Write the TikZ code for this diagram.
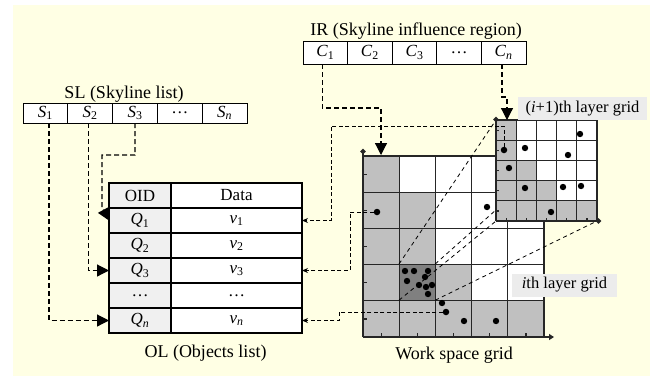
\documentclass[tikz,border=0pt]{standalone}
\usepackage{fontspec}
\setmainfont{Liberation Serif}
\usetikzlibrary{positioning,arrows.meta,calc}
\definecolor{bgyellow}{RGB}{255,255,228}
\definecolor{cellgray}{RGB}{192,192,192}
\definecolor{darkcell}{RGB}{128,128,128}
\definecolor{oidgray}{RGB}{240,240,240}
\definecolor{labgray}{RGB}{236,236,236}
\newcommand{\ital}[2]{\textit{#1}\textsubscript{#2}}

\begin{document}
\begin{tikzpicture}[x=1pt,y=-1pt,
  every node/.style={font=\fontsize{17}{19}\selectfont,inner sep=0pt,outer sep=0pt},
  ttl/.style={font=\fontsize{18}{20}\selectfont},
  slcell/.style={rectangle,draw,line width=0.9pt,fill=white,minimum width=44.8pt,minimum height=20pt},
  ircell/.style={slcell,minimum width=44.6pt,minimum height=23pt},
  oidcell/.style={rectangle,draw,line width=1.1pt,fill=oidgray,minimum width=62pt,minimum height=25pt},
  datcell/.style={oidcell,fill=white,minimum width=131pt},
  lab/.style={fill=labgray,font=\fontsize{16.5}{18}\selectfont,minimum height=23pt},
  gline/.style={line width=1.3pt,black!85},
  axis/.style={line width=1.8pt,black!85},
  tick/.style={line width=1.2pt,black!85},
  dot/.style={circle,fill=black,minimum size=6.5pt},
  zoomln/.style={line width=0.8pt,dash pattern=on 4pt off 3.5pt},
  link/.style={line width=1pt,dash pattern=on 4pt off 2.5pt,-{Stealth[length=6pt,width=5pt]}},
  bigarr/.style={line width=1.2pt,dash pattern=on 5pt off 3pt,-{Triangle[length=12pt,width=12pt]}}
]
\fill[bgyellow] (13,5) rectangle (650,376);
\useasboundingbox (0,0) rectangle (650,376);

\node[ttl] (sltitle) at (124,94) {SL (Skyline list)};
\node[slcell] (s1) at (45.4,113) {\ital{S}{1}};
\node[slcell,right=0pt of s1] (s2) {\ital{S}{2}};
\node[slcell,right=0pt of s2] (s3) {\ital{S}{3}};
\node[slcell,right=0pt of s3] (s4) {\dots};
\node[slcell,right=0pt of s4] (s5) {\ital{S}{\textit{n}}};

\node[ttl] (irtitle) at (416,31) {IR (Skyline influence region)};
\node[ircell] (c1) at (325.3,52.5) {\ital{C}{1}};
\node[ircell,right=0pt of c1] (c2) {\ital{C}{2}};
\node[ircell,right=0pt of c2] (c3) {\ital{C}{3}};
\node[ircell,right=0pt of c3] (c4) {\dots};
\node[ircell,right=0pt of c4] (cn) {\ital{C}{\textit{n}}};

\node[oidcell] (oid) at (140,195.5) {OID};
\node[datcell,right=0pt of oid] (data) {Data};
\node[oidcell,below=0pt of oid] (q1) {\ital{Q}{1}};
\node[datcell,right=0pt of q1] (v1) {\ital{v}{1}};
\node[oidcell,below=0pt of q1] (q2) {\ital{Q}{2}};
\node[datcell,right=0pt of q2] (v2) {\ital{v}{2}};
\node[oidcell,below=0pt of q2] (q3) {\ital{Q}{3}};
\node[datcell,right=0pt of q3] (v3) {\ital{v}{3}};
\node[oidcell,below=0pt of q3] (q4) {\dots};
\node[datcell,right=0pt of q4] (v4) {\dots};
\node[oidcell,below=0pt of q4] (qn) {\ital{Q}{\textit{n}}};
\node[datcell,right=0pt of qn] (vn) {\ital{v}{\textit{n}}};
\node[ttl] (oltitle) at (205.5,353) {OL (Objects list)};

\begin{scope}[shift={(363,156)}]
\fill[white] (0,0) rectangle (181,181);
\foreach \r/\c in {0/0,1/0,1/1,2/0,2/1,3/0,3/2,4/0,4/1,4/2,4/3,4/4}
  \fill[cellgray] (36.2*\c,36.2*\r) rectangle ++(36.2,36.2);
\end{scope}
\node[minimum size=36.2pt,fill=darkcell] (hot) at (417.1,282.1) {};
\begin{scope}[shift={(363,156)}]
\foreach \k in {1,...,5}
  \draw[gline] (36.2*\k,0) -- (36.2*\k,181);
\foreach \k in {0,...,4}
  \draw[gline] (0,36.2*\k) -- (181,36.2*\k);
\foreach \k in {0,...,4} {
  \draw[tick] (0,18.1+36.2*\k) -- ++(4,0);
  \draw[tick] (18.1+36.2*\k,181) -- ++(0,-4);
}
\draw[axis,-{Circle[length=5pt]}] (0,181) -- (0,-7);
\draw[axis,-{Triangle[length=5pt,width=6pt]}] (0,181) -- (191,181);
\end{scope}
\node[dot] (d1) at (377,212) {};
\node[dot] (d2) at (446,312) {};
\foreach \p in {(487,207),(442,303),(464,321),(496,321),
  (405,271),(414,271),(428,271),(425,277),(407,281),(419,285),(426,287),(432,285),(428,294)}
  \fill \p circle (3.2);
\node[ttl] (wsgtitle) at (454,355) {Work space grid};

\node[minimum size=101pt] (inset) at (546.5,170.5) {};
\draw[zoomln] (hot.north west) -- (inset.north west);
\draw[zoomln] (hot.south west) -- (inset.south west);
\draw[zoomln] (hot.north east) -- (inset.north east);
\draw[zoomln] (hot.south east) -- (inset.south east);

\begin{scope}[shift={(496,120)}]
\fill[white] (0,0) rectangle (101,101);
\foreach \r/\c in {0/0,1/0,2/0,2/1,3/0,3/1,3/2,4/0,4/1,4/2,4/3,4/4}
  \fill[cellgray] (20.2*\c,20.2*\r) rectangle ++(20.2,20.2);
\foreach \k in {1,...,5}
  \draw[gline] (20.2*\k,0) -- (20.2*\k,101);
\foreach \k in {0,...,4}
  \draw[gline] (0,20.2*\k) -- (101,20.2*\k);
\foreach \k in {0,...,4} {
  \draw[tick] (0,10.1+20.2*\k) -- ++(3,0);
  \draw[tick] (10.1+20.2*\k,101) -- ++(0,-3);
}
\draw[axis,-{Circle[length=5pt]}] (0,101) -- (0,-3);
\draw[axis,-{Circle[length=5pt]}] (0,101) -- (105,101);
\end{scope}
\node[dot] (e1) at (504,150) {};
\foreach \p in {(580,134),(525,148),(568,155),(509,168),(525,188),(563,187),(581,186),(551,212)}
  \fill \p circle (3.2);

\node[lab,minimum width=129pt] (nextlab) at (582.5,108.5) {(\textit{i}+1)th layer grid};
\node[lab,minimum width=105pt] (thislab) at (564.5,285) {\textit{i}th layer grid};

\coordinate (wsgin) at (381,155);
\coordinate (insetin) at (507,120);
\draw[bigarr] ([xshift=3.6pt]s1.south) |- (qn.west);
\draw[bigarr] ([xshift=-2pt]s2.south) |- (q3.west);
\draw[bigarr] (s3.south) -- ++(0,32) -| ($(q1.west)+(-7,-13)$) -- (q1.west);
\draw[bigarr] ([xshift=-3pt]c1.south) -- ++(0,44) -| (wsgin);
\draw[bigarr] ([xshift=-1.7pt]cn.south) -- ++(0,33) -| (insetin);
\draw[link] (e1) -- ++(0,-24) -| ($(v1.east)+(29,0)$) -- (v1.east);
\draw[link] (d1) -- ++(-27,0) |- (v3.east);
\draw[link] (d2) -- ++(-107,0) |- (vn.east);
\end{tikzpicture}
\end{document}
